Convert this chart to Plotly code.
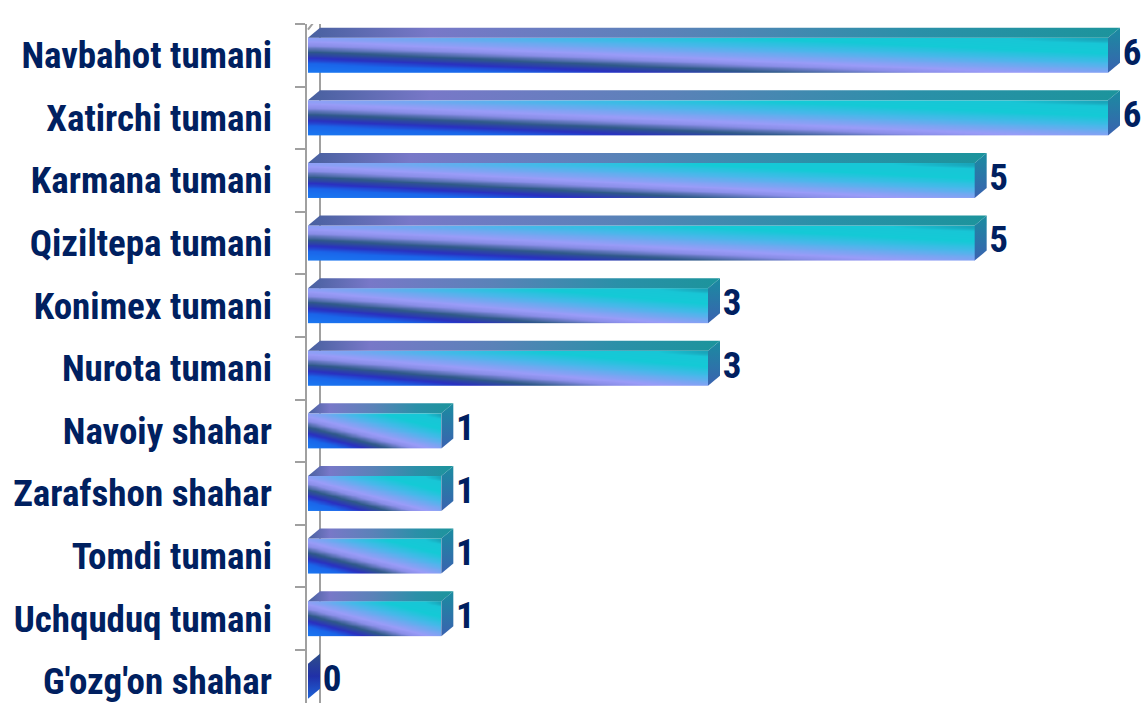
import numpy as np
import plotly.graph_objects as go

# ---- data ----
categories = ["Navbahot tumani", "Xatirchi tumani", "Karmana tumani", "Qiziltepa tumani",
              "Konimex tumani", "Nurota tumani", "Navoiy shahar", "Zarafshon shahar",
              "Tomdi tumani", "Uchquduq tumani", "G'ozg'on shahar"]
values = [6, 6, 5, 5, 3, 3, 1, 1, 1, 1, 0]

# ---- style ----
LABEL_FONT = "Roboto Condensed, Liberation Sans Narrow, Arial Narrow, Roboto, sans-serif"
TEXT_COLOR = "#002060"
AXIS_COLOR = "#a0a0a0"
H = 0.28          # half height of bar front face (category units)
DX = 0.09         # depth offset in x (value units)
DY = 0.16         # depth offset in y (category units)

front_scale = [
    [0.00, "#1a7af2"], [0.14, "#1a66ea"], [0.22, "#2a30c0"], [0.31, "#2f5a88"],
    [0.40, "#8a8ee8"], [0.46, "#9a9cf8"], [0.54, "#78a6f2"], [0.64, "#48b8ea"],
    [0.78, "#14cad6"], [0.92, "#18c6d6"], [1.00, "#1a98b0"],
]
top_scale = [[0.0, "#48609f"], [0.15, "#7878c8"], [0.45, "#5a82b8"],
             [0.75, "#2a90a8"], [1.0, "#1c949c"]]
side_scale = [[0.0, "#1a8ca0"], [1.0, "#3a62b0"]]
side_scale_zero = [[0.0, "#2f4f88"], [0.5, "#2030a8"], [1.0, "#1e64d8"]]

fig = go.Figure()

YMIN, YMAX = -0.5, 10.347
XMIN, XMAX = -0.0075, 6.255

# back wall line (behind bars) - drawn as shape below traces
fig.add_shape(type="line", xref="x", yref="y", x0=DX, x1=DX, y0=-0.5, y1=YMAX,
              line=dict(color=AXIS_COLOR, width=2), layer="below")
# top of the wall above plot area
fig.add_trace(go.Scatter(x=[0, DX, DX], y=[-0.41, -0.5 - DY, -0.5], mode="lines",
                         line=dict(color=AXIS_COLOR, width=2), cliponaxis=False,
                         hoverinfo="skip", showlegend=False, yaxis="y2"))

nx, ny = 60, 14
for i, v in enumerate(values):
    y_top, y_bot = i - H, i + H
    if v > 0:
        xe = np.linspace(0, v, nx + 1)
        ye = np.linspace(y_top, y_bot, ny + 1)
        u = (np.arange(nx) + 0.5) / nx
        w = (np.arange(ny) + 0.5) / ny
        U, W = np.meshgrid(u, w)
        Z = 0.5 * U + 0.5 * (1 - W)
        fig.add_trace(go.Heatmap(x=xe, y=ye, z=Z, colorscale=front_scale, zmin=0, zmax=1,
                                 zsmooth="best", showscale=False, hoverinfo="skip"))
        # top face
        fig.add_trace(go.Scatter(
            x=[0, v, v + DX, DX, 0], y=[y_top, y_top, y_top - DY, y_top - DY, y_top],
            mode="lines", line=dict(width=0), fill="toself",
            fillgradient=dict(type="horizontal", colorscale=top_scale, start=0, stop=v + DX),
            hoverinfo="skip", showlegend=False))
    # side face
    fig.add_trace(go.Scatter(
        x=[v, v + DX, v + DX, v, v], y=[y_top, y_top - DY, y_bot - DY, y_bot, y_top],
        mode="lines", line=dict(width=0), fill="toself",
        fillgradient=dict(type="vertical", colorscale=side_scale if v > 0 else side_scale_zero,
                          start=y_top - DY, stop=y_bot),
        hoverinfo="skip", showlegend=False))

# value labels
fig.add_trace(go.Scatter(
    x=[v + DX + 0.02 for v in values], y=list(range(len(values))), mode="text",
    text=[str(v) for v in values], textposition="middle right",
    textfont=dict(family=LABEL_FONT, size=37, color=TEXT_COLOR, weight="bold"),
    cliponaxis=False, hoverinfo="skip", showlegend=False))

fig.update_layout(
    width=1142, height=703,
    margin=dict(l=307, r=0, t=24, b=0),
    paper_bgcolor="white", plot_bgcolor="white",
    showlegend=False, hovermode=False,
    xaxis=dict(range=[XMIN, XMAX], visible=False, fixedrange=True),
    yaxis=dict(range=[YMAX, YMIN], tickmode="array", tickvals=list(range(len(categories))),
               ticktext=categories, ticks="", showline=False, showgrid=False, zeroline=False,
               tickfont=dict(family=LABEL_FONT, size=37, color=TEXT_COLOR, weight="bold"),
               ticklabelstandoff=34, ticklabeloverflow="allow", fixedrange=True),
    yaxis2=dict(range=[YMAX, YMIN], overlaying="y", side="left", anchor="x",
                tickmode="array", tickvals=[k - 0.5 for k in range(len(categories))],
                showticklabels=False, ticks="outside", ticklen=10, tickwidth=2,
                tickcolor=AXIS_COLOR, showline=True, linecolor=AXIS_COLOR, linewidth=2,
                showgrid=False, zeroline=False, fixedrange=True),
)

fig.write_html("out.html", config={"displayModeBar": False},
               post_script="document.body.style.margin='0';document.body.style.overflow='hidden';")
